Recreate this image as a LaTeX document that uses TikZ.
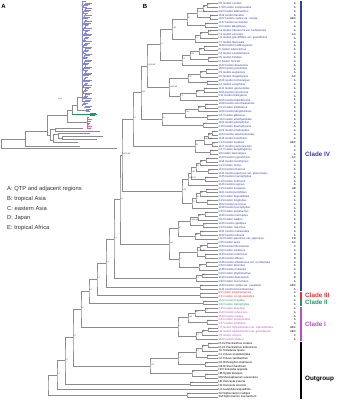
\documentclass[tikz,border=0pt]{standalone}
\usepackage{fontspec}
\setmainfont{Liberation Sans}
\usetikzlibrary{calc}
\definecolor{cb}{RGB}{52,60,170}
\definecolor{cbl}{RGB}{135,135,215}
\definecolor{cr}{RGB}{222,52,52}
\definecolor{cg}{RGB}{36,150,100}
\definecolor{cp}{RGB}{184,80,194}
\definecolor{cpl}{RGB}{215,95,200}
\definecolor{ck}{RGB}{0,0,0}
\definecolor{brc}{RGB}{140,140,140}
\tikzset{
  br/.style={draw=brc,line width=0.3pt},
  abr/.style={draw=brc,line width=0.25pt},
  leaf/.style={anchor=west,inner sep=0pt,font=\fontsize{2.8}{3}\selectfont},
  reg/.style={anchor=east,inner sep=0pt,font=\fontsize{2.8}{3}\selectfont},
  nl/.style={anchor=south west,inner sep=0.15pt,font=\fontsize{1.9}{2}\selectfont,text=black!75},
  clab/.style={anchor=west,inner sep=0pt,font=\fontsize{6.3}{7}\selectfont\bfseries},
  leg/.style={anchor=west,inner sep=0pt,font=\fontsize{5.8}{7}\selectfont,text=black!80},
  plab/.style={anchor=center,inner sep=0pt,font=\fontsize{6}{7}\selectfont\bfseries}
}
\newcommand\J[4]{%
  \path let \p1=($(#3)!.5!(#4)$) in coordinate (#1) at (#2,\y1);
  \draw[br] (#3) -| (#1) |- (#4);}
\newcommand\JL[5]{\J{#1}{#2}{#3}{#4}\node[nl] at (#1) {#5};}
\begin{document}
\begin{tikzpicture}[x=1pt,y=-1pt]
\useasboundingbox (0,0) rectangle (338,400);
\fill[white] (0,0) rectangle (338,400);
% ---------- panel letters
\node[plab] (pA) at (3.5,6.5) {A};
\node[plab] (pB) at (145,6) {B};
% ---------- panel A (overview tree)
\draw[abr] (1,139) -- (1,148) (1,148) -- (117,148) (1,139) -- (25,139);
\draw[abr] (25,131) -- (25,146.3) (25,146.3) -- (80,146.3) (25,131) -- (47,131);
\draw[abr] (47,115) -- (47,135) (47,135) -- (50,135) (50,129.5) -- (50,140);
\draw[abr] (50,129.5) -- (55,129.5) (55,127.8) -- (55,131.2) (55,127.8) -- (83,127.8) (55,131.2) -- (100,131.2);
\draw[abr] (50,140) -- (53,140) (53,134.5) -- (53,142.5) (53,142.5) -- (78,142.5);
\draw[abr] (53,134.5) -- (58,134.5) (58,133.2) -- (58,137.8) (58,133.2) -- (90,133.2) (58,137.8) -- (62,137.8) (62,136.2) -- (62,139.4) (62,136.2) -- (103,136.2) (62,139.4) -- (97,139.4);
\draw[abr] (47,115) -- (67,115) (67,110) -- (67,122.5) (67,122.5) -- (87,122.5);
\draw[abr] (67,110) -- (72,110) (72,105) -- (72,114.3);
\draw[abr] (72,105) -- (77,105) (77,97) -- (77,110) (77,110) -- (84,110);
\draw[abr] (77,97) -- (82,97) (82,88) -- (82,101) (82,101) -- (84,101) (82,88) -- (82.5,88);
% blue clade (compressed)
\draw[cbl,line width=0.2pt] (82.5,1.2) -- (82.5,88);
\foreach \k in {0,...,74} {
  \pgfmathsetmacro\yy{1.2+1.43*\k}
  \pgfmathsetmacro\xa{82.5+mod(\k*3,4)*0.9}
  \pgfmathsetmacro\xb{86+mod(\k*7,9)*0.8}
  \pgfmathsetmacro\yb{\yy+1.43}
  \draw[cbl,line width=0.15pt] (\xa,\yy) -- (\xb,\yy);
  \draw[cbl,line width=0.15pt] (\xa,\yy) -- (\xa,\yb);
}
\draw[cbl,line width=0.2pt] (84,101) -- (90,101) (84,110) -- (89,110) (86,108.8) -- (86,111.2) (86,108.8) -- (91,108.8) (86,111.2) -- (90,111.2);
\draw[cg,line width=0.3pt] (72,114.3) -- (97,114.3) (90,113) -- (90,115.6) (90,113) -- (96,113) (90,115.6) -- (95,115.6);
\draw[cpl,line width=0.25pt] (87,117.5) -- (87,128);
\foreach \k in {0,...,6} {
  \pgfmathsetmacro\yy{117.5+1.75*\k}
  \pgfmathsetmacro\xb{89+mod(\k*3,4)}
  \draw[cpl,line width=0.22pt] (87,\yy) -- (\xb,\yy);}
\node[anchor=center,inner sep=0pt,font=\fontsize{2}{2}\selectfont,text=black!70] (scA) at (60,99) {0.01};
% legend
\node[leg] (lgA) at (7,189.3) {A: QTP and adjacent regions};
\node[leg] (lgB) at (7,198.8) {B: tropical Asia};
\node[leg] (lgC) at (7,208.5) {C: eastern Asia};
\node[leg] (lgD) at (7,218.3) {D: Japan};
\node[leg] (lgE) at (7,228.2) {E: tropical Africa};
% ---------- panel B leaves
\foreach \c/\r/\t [count=\i from 0] in {
b/A/C6 Isodon ornatus,
b/A/1718 Isodon sculponeatus,
b/A/C60 Isodon adenanthus,
b/A/1119 Isodon flavidus,
b/ABC/1127 Isodon coetsa var. coetsa,
b/C/1137 Isodon excisoides,
b/A/10 Isodon albopilosus,
b/A/C4 Isodon rubescens var. lushanensis,
b/AC/C1 Isodon eriocalyx,
b/A/H1 Isodon grandifolius var. grandifolius,
b/A/C7 Isodon flexicaulis,
b/A/1120 Isodon medilungensis,
b/A/I6 Isodon adenolomus,
b/A/C3 Isodon enanderianus,
b/A/C5 Isodon hirtellus,
b/A/I3 Isodon forrestii,
b/A/1122 Isodon dawoensis,
b/A/1103 Isodon parvifolius,
b/A/C9 Isodon weisiensis,
b/AC/C8 Isodon megathyrsus,
b/A/1115 Isodon trichocarpus,
b/A/C2 Isodon xerophilus,
b/A/1111 Isodon gesneroides,
b/A/1105 Isodon racemosus,
b/A/C11 Isodon bulleyanus,
b/A/1106 Isodon flabelliformis,
b/A/1108 Isodon setschwanensis,
b/A/C21 Isodon smithianus,
b/A/1109 Isodon liangshanicus,
b/A/C27 Isodon gibbosus,
b/A/H10 Isodon amethystoides,
b/A/1110 Isodon pleiophyllus,
b/A/C15 Isodon brachythyrsus,
b/A/1112 Isodon phyllopodus,
b/A/1104 Isodon wikstroemioides,
b/A/1116 Isodon tenuifolius,
b/ABC/C13 Isodon oresbius,
b/C/1117 Isodon yuennanensis,
b/A/C17 Isodon kangdingensis,
b/A/18 Isodon lasiocarpus,
b/AC/1123 Isodon rugosiformis,
b/A/1118 Isodon loxothyrsus,
b/A/C14 Isodon henryi,
b/A/1124 Isodon pharicus,
b/A/1121 Isodon japonicus var. glaucocalyx,
b/A/1125 Isodon macrophyllus,
b/A/C18 Isodon rosthornii,
b/A/1126 Isodon rugosus,
b/AB/C16 Isodon scoparius,
b/A/1101 Isodon ternifolius,
b/A/C12 Isodon angustifolius,
b/A/C19 Isodon longitubus,
b/A/1102 Isodon nervosus,
b/A/1128 Isodon leucophyllus,
b/A/C20 Isodon polystachys,
b/A/1129 Isodon interruptus,
b/A/C22 Isodon walkeri,
b/A/1130 Isodon capillipes,
b/A/C23 Isodon calycinus,
b/A/1131 Isodon melissoides,
b/C/1132 Isodon inflexus,
b/CD/H12 Isodon japonicus var. japonicus,
b/AC/C25 Isodon serra,
b/C/1133 Isodon lihsienensis,
b/A/C26 Isodon silvaticus,
b/D/1134 Isodon umbrosus,
b/D/1135 Isodon effusus,
b/A/1136 Isodon shikokianus var. occidentalis,
b/A/C28 Isodon atroruber,
b/A/1138 Isodon muliensis,
b/A/C29 Isodon phyllostachys,
b/B/1139 Isodon daitonensis,
b/A/C30 Isodon mucronatus,
b/ABC/1140 Isodon coetsa var. cavaleriei,
b/A/1141 Isodon brevicalcaratus,
r/A/90 Isodon lungshengensis,
r/A/C31 Isodon scrophularioides,
g/A/1142 Isodon hispidus,
g/A/C32 Isodon lophophyllus,
p/A/C35 Isodon stracheyi,
p/A/1143 Isodon rubescens,
p/A/1144 Isodon coetsa,
p/A/C36 Isodon sculponeatus,
p/A/C37 Isodon ternifolius,
p/ABC/H7 Isodon lophanthoides var. lophanthoides,
p/ABC/H8 Isodon lophanthoides var. gerardianus,
p/C/C9 Isodon villosus,
p/A/1150 Isodon walkeri} {
  \pgfmathsetmacro\yy{3.5+3.86*\i}
  \coordinate (l\i) at (217.5,\yy);
  \node[leaf,text=c\c] (t\i) at (218.5,\yy) {\t};
  \node[reg] (r\i) at (296,\yy) {\r};
}
\foreach \t [count=\i from 88] in {
PLC2 Plectranthus ornatus,
PLC1 Plectranthus amboinicus,
TK Tetradenia riparia,
C1 Coleus scutellarioides,
C2 Coleus xanthanthus,
O1 Orthosiphon stamineus,
O6 Ocimum basilicum,
HO Hoslundia opposita,
HB Hyptis brevipes,
MS Mesosphaerum suaveolens,
HE Hanceola exserta,
HS Hanceola sinensis,
LA Lavandula angustifolia,
SN Siphocranion nudipes,
SM Siphocranion macranthum} {
  \pgfmathsetmacro\yy{3.5+3.86*\i}
  \coordinate (l\i) at (217.5,\yy);
  \node[leaf,text=ck] (t\i) at (218.5,\yy) {\t};
}
% ---------- panel B tree
\JL{n1}{207}{l0}{l1}{1.0}
\JL{n2}{203}{n1}{l2}{98*}
\JL{n3}{210}{l3}{l4}{1.0}
\JL{n4}{197}{n2}{n3}{0.91/0.94}
\JL{n5}{205}{l5}{l6}{1.0}
\JL{n6}{187}{n4}{n5}{98*}
\JL{n7}{208}{l7}{l8}{1.0}
\JL{n8}{200}{n7}{l9}{98*}
\JL{n9}{195}{n8}{l10}{1.0}
\JL{n10}{172}{n6}{n9}{0.96}
\JL{n11}{204}{l11}{l12}{1.0}
\JL{n12}{199}{n11}{l13}{98*}
\JL{n13}{208}{l14}{l15}{1.0}
\JL{n14}{190}{n12}{n13}{0.99}
\JL{n15}{182}{n14}{l16}{1.0}
\JL{U1}{160}{n10}{n15}{1.0}
\JL{n16}{206}{l17}{l18}{1.0}
\JL{n17}{200}{n16}{l19}{98*}
\JL{n18}{207}{l20}{l21}{1.0}
\JL{n19}{188}{n17}{n18}{0.97}
\JL{n20}{204}{l22}{l23}{1.0}
\JL{n21}{196}{n20}{l24}{98*}
\JL{n22}{180}{n21}{l25}{1.0}
\JL{U2}{169}{n19}{n22}{0.93/0.98}
\JL{U}{147}{U1}{U2}{0.93/0.98}
\JL{n23}{205}{l26}{l27}{1.0}
\JL{n24}{198}{n23}{l28}{98*}
\JL{n25}{207}{l29}{l30}{1.0}
\JL{n26}{185}{n24}{n25}{0.99}
\JL{n27}{203}{l31}{l32}{1.0}
\JL{W}{162}{n26}{n27}{1.0}
\JL{P1a}{141}{U}{W}{0.99}
\JL{n28}{212}{l33}{l34}{1.0}
\JL{n29}{208}{n28}{l35}{98*}
\JL{n30}{212}{l36}{l37}{1.0}
\JL{n31}{204}{n29}{n30}{0.96/0.99}
\JL{n32}{210}{l38}{l39}{1.0}
\JL{P1b}{195}{n31}{n32}{98*}
\JL{P1}{133}{P1a}{P1b}{1.0}
\JL{n33}{206}{l40}{l41}{1.0}
\JL{n34}{200}{n33}{l42}{98*}
\JL{n35}{208}{l43}{l44}{1.0}
\JL{n36}{196}{n34}{n35}{98*}
\JL{n37}{205}{l45}{l46}{1.0}
\JL{n38}{191}{n36}{n37}{0.99}
\JL{P2a}{188}{n38}{l47}{0.93/0.97}
\JL{n40}{206}{l48}{l49}{1.0}
\JL{n41}{200}{n40}{l50}{98*}
\JL{n42}{207}{l51}{l52}{1.0}
\JL{n43}{196}{n41}{n42}{98*}
\JL{P2b}{192}{n43}{l53}{1.0}
\JL{P2}{182}{P2a}{P2b}{0.98}
\JL{P}{122}{P1}{P2}{0.93/0.98}
\JL{n44}{205}{l54}{l55}{1.0}
\JL{n45}{198}{n44}{l56}{98*}
\JL{n46}{203}{l57}{l58}{1.0}
\JL{n47}{190}{n45}{n46}{0.99/0.98}
\JL{n48}{200}{l59}{l60}{1.0}
\JL{n49}{195}{n48}{l61}{98*}
\JL{Q1}{178}{n47}{n49}{98*}
\JL{n50}{207}{l62}{l63}{1.0}
\JL{n51}{200}{n50}{l64}{98*}
\JL{n52}{205}{l65}{l66}{1.0}
\JL{n53}{197}{n51}{n52}{0.99/0.98}
\JL{n54}{206}{l67}{l68}{1.0}
\JL{n55}{199}{n54}{l69}{98*}
\JL{Q2}{179}{n53}{n55}{1.0}
\JL{Q}{169}{Q1}{Q2}{0.98}
\JL{C4}{120}{P}{Q}{1.0}
\JL{n56}{202}{l70}{l71}{98*}
\JL{K1}{196}{n56}{l72}{1.0}
\JL{K2}{200}{l73}{l74}{98*}
\JL{A}{114}{C4}{K1}{1.0}
\JL{B}{106}{A}{K2}{1.0}
\JL{R3}{200}{l75}{l76}{1.0}
\JL{C}{97}{B}{R3}{1.0}
\JL{G2}{203}{l77}{l78}{1.0}
\JL{D}{89}{C}{G2}{1.0}
\JL{m1}{205}{l79}{l80}{1.0}
\JL{m2}{195}{m1}{l81}{98*}
\JL{m3}{207}{l82}{l83}{1.0}
\JL{m4}{188}{m2}{m3}{0.99}
\JL{m5}{208}{l84}{l85}{1.0}
\JL{m6}{202}{m5}{l86}{98*}
\JL{m7}{196}{m6}{l87}{1.0}
\JL{CI}{178}{m4}{m7}{1.0}
\JL{E}{81}{D}{CI}{1.0}
\JL{o1}{208}{l88}{l89}{1.0}
\JL{o2}{202}{o1}{l90}{1.0}
\JL{o3}{207}{l91}{l92}{1.0}
\JL{o4}{196}{o2}{o3}{1.0}
\JL{o5}{205}{l93}{l94}{1.0}
\JL{o6}{178}{o4}{o5}{1.0}
\JL{o7}{205}{l96}{l97}{1.0}
\JL{o8}{192}{l95}{o7}{1.0}
\JL{o9}{150}{o6}{o8}{0.92}
\JL{F}{73}{E}{o9}{1.0}
\JL{o10}{190}{l98}{l99}{1.0}
\JL{G}{65}{F}{o10}{1.0}
\JL{H}{57}{G}{l100}{1.0}
\JL{o11}{187}{l101}{l102}{1.0}
\J{root}{48}{H}{o11}
% ---------- clade bars
\fill[cb] (300.3,1.3) rectangle (302.3,291.0);
\fill[cr] (300.3,291.6) rectangle (302.3,298.6);
\fill[cg] (300.3,299.2) rectangle (302.3,306.4);
\fill[cp] (300.3,307.0) rectangle (302.3,341.0);
\fill[ck] (300.3,341.6) rectangle (302.3,398.8);
\node[clab,text=cb] (c4) at (305,154) {Clade IV};
\node[clab,text=cr] (c3) at (305,295) {Clade III};
\node[clab,text=cg] (c2) at (305,302.5) {Clade II};
\node[clab,text=cp] (c1) at (305,324) {Clade I};
\node[clab,text=ck] (co) at (305,379) {Outgroup};
\end{tikzpicture}
\end{document}
